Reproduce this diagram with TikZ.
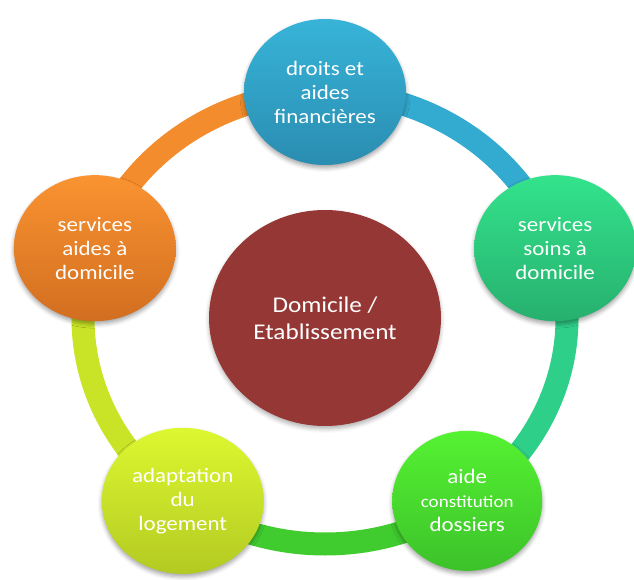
\documentclass[tikz,border=0pt]{standalone}
\usepackage{fontspec}
\newfontfamily\cfont[FakeStretch=1.12]{Carlito}
\usetikzlibrary{shapes.geometric,shadows.blur}
\definecolor{topA}{HTML}{37B4D8}
\definecolor{topB}{HTML}{2A8DB1}
\definecolor{rightA}{HTML}{33E38C}
\definecolor{rightB}{HTML}{27B06E}
\definecolor{brA}{HTML}{55F232}
\definecolor{brB}{HTML}{3CC22A}
\definecolor{blA}{HTML}{DDF830}
\definecolor{blB}{HTML}{B3CA22}
\definecolor{leftA}{HTML}{FA9331}
\definecolor{leftB}{HTML}{D26E20}
\definecolor{centerc}{HTML}{953735}
\definecolor{segA}{HTML}{33ABD0}
\definecolor{segB}{HTML}{2ECF88}
\definecolor{segC}{HTML}{40CC2E}
\definecolor{segD}{HTML}{C9E426}
\definecolor{segE}{HTML}{F28C2C}
\begin{document}
\begin{tikzpicture}[x=1pt,y=1pt,
  bubble/.style={ellipse, inner sep=0pt, minimum width=162pt, minimum height=146pt,
    text=white, align=center, font=\cfont\fontsize{20.5}{24}\selectfont,
    blur shadow={shadow xshift=0pt, shadow yshift=-3pt, shadow blur radius=4pt, shadow opacity=35}},
  hub/.style={ellipse, inner sep=0pt, minimum width=232pt, minimum height=216pt,
    fill=centerc, text=white, align=center, font=\cfont\fontsize{22.5}{27}\selectfont,
    blur shadow={shadow xshift=0pt, shadow yshift=-3pt, shadow blur radius=4pt, shadow opacity=30}},
  ringseg/.style={line width=23pt, line cap=butt}]
\useasboundingbox (0,0) rectangle (634,579);
\coordinate (c) at (325,261);
% node positions
\coordinate (p1) at ([shift={(90:242pt and 226pt)}]c);
\coordinate (p2) at ([shift={(18:242pt and 226pt)}]c);
\coordinate (p3) at ([shift={(-54:242pt and 226pt)}]c);
\coordinate (p4) at ([shift={(-126:242pt and 226pt)}]c);
\coordinate (p5) at ([shift={(162:242pt and 226pt)}]c);
% ring
\draw[ringseg, segA] (p1) arc[start angle=90, end angle=18, x radius=242pt, y radius=226pt];
\draw[ringseg, segB] (p2) arc[start angle=18, end angle=-54, x radius=242pt, y radius=226pt];
\draw[ringseg, segC] (p3) arc[start angle=-54, end angle=-126, x radius=242pt, y radius=226pt];
\draw[ringseg, segD] (p4) arc[start angle=-126, end angle=-198, x radius=242pt, y radius=226pt];
\draw[ringseg, segE] (p5) arc[start angle=162, end angle=90, x radius=242pt, y radius=226pt];
% hub
\node[hub] (hub) at (c) {Domicile /\\Etablissement};
% satellites
\node[bubble, top color=topA, bottom color=topB] (n1) at (p1) {droits et\\aides\\financières};
\node[bubble, top color=rightA, bottom color=rightB] (n2) at (p2) {services\\soins à\\domicile};
\node[bubble, top color=brA, bottom color=brB, minimum width=150pt, minimum height=140pt] (n3) at (p3) {aide\\{\fontsize{17}{20}\selectfont constitution}\\dossiers};
\node[bubble, top color=blA, bottom color=blB] (n4) at (p4) {adaptation\\du\\logement};
\node[bubble, top color=leftA, bottom color=leftB] (n5) at (p5) {services\\aides à\\domicile};
\end{tikzpicture}
\end{document}
